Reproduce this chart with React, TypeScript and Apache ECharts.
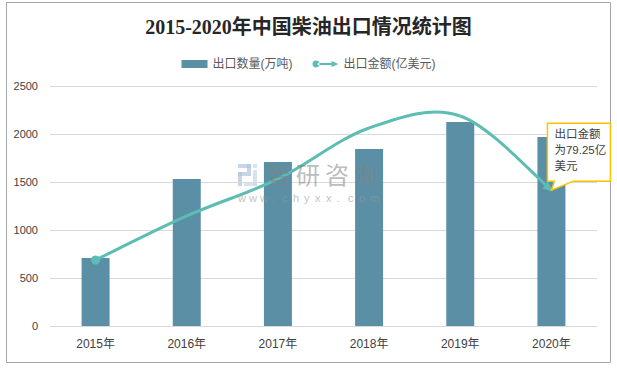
import React, { useEffect, useRef } from 'react';
import * as echarts from 'echarts';

const titleText = '2015-2020年中国柴油出口情况统计图';
const years = ['2015年', '2016年', '2017年', '2018年', '2019年', '2020年'];
const volumeName = '出口数量(万吨)';
const amountName = '出口金额(亿美元)';
const volume = [708, 1531, 1708, 1844, 2125, 1969];
const amount = [38.5, 64.2, 85.8, 115.5, 122.5, 79.25];
const yMin = 0;
const yMax = 2500;
const yInterval = 500;
const y2Max = 140;
const calloutLines = ['出口金额', '为79.25亿', '美元'];
const watermarkCn = '智研咨询';
const watermarkUrl = 'www.chyxx.com';

const font = "'Liberation Sans', 'Noto Sans CJK SC', sans-serif";
const lineColor = '#5BBDB3';

export default function App() {
  const ref = useRef<HTMLDivElement>(null);
  useEffect(() => {
    if (!ref.current) return;
    const chart = echarts.init(ref.current, null, { renderer: 'svg' });
    const n = amount.length;

    const renderItem = (params: any, api: any) => {
      const i = params.dataIndex;
      const P = (k: number) => {
        const kk = Math.max(0, Math.min(n - 1, k));
        return api.coord([kk, amount[kk]]);
      };
      const children: any[] = [];
      if (i < n - 1) {
        const p0 = P(i - 1);
        const p1 = P(i);
        const p2 = P(i + 1);
        const p3 = P(i + 2);
        const t = 1 / 6;
        children.push({
          type: 'bezierCurve',
          shape: {
            x1: p1[0],
            y1: p1[1],
            cpx1: p1[0] + (p2[0] - p0[0]) * t,
            cpy1: p1[1] + (p2[1] - p0[1]) * t,
            cpx2: p2[0] - (p3[0] - p1[0]) * t,
            cpy2: p2[1] - (p3[1] - p1[1]) * t,
            x2: p2[0],
            y2: p2[1],
          },
          style: { stroke: lineColor, lineWidth: 3, fill: 'none' },
        });
      }
      if (i === 0) {
        const p = P(0);
        children.push({
          type: 'circle',
          shape: { cx: p[0], cy: p[1], r: 4.5 },
          style: { fill: lineColor },
        });
      }
      if (i === n - 1) {
        const pe = P(n - 1);
        const pp = P(n - 2);
        const dx = pe[0] - pp[0];
        const dy = pe[1] - pp[1];
        const len = Math.sqrt(dx * dx + dy * dy);
        const ux = dx / len;
        const uy = dy / len;
        const tipX = pe[0] + ux * 2;
        const tipY = pe[1] + uy * 2;
        const L = 10;
        const W = 4.5;
        children.push({
          type: 'polygon',
          shape: {
            points: [
              [tipX, tipY],
              [tipX - ux * L - uy * W, tipY - uy * L + ux * W],
              [tipX - ux * L + uy * W, tipY - uy * L - ux * W],
            ],
          },
          style: { fill: lineColor },
        });
        const tx = pe[0];
        const ty = pe[1];
        children.push({
          type: 'polygon',
          shape: {
            points: [
              [tx - 4, ty - 67],
              [tx + 59, ty - 67],
              [tx + 59, ty - 9],
              [tx + 22, ty - 9],
              [tx, ty],
              [tx + 3, ty - 9],
              [tx - 4, ty - 9],
            ],
          },
          style: { fill: '#fff', stroke: '#FFC000', lineWidth: 1.5 },
        });
        calloutLines.forEach((line, k) => {
          children.push({
            type: 'text',
            style: {
              text: line,
              x: tx + 3,
              y: ty - 56 + k * 16,
              fill: '#404040',
              font: `11.5px ${font}`,
              verticalAlign: 'middle',
              align: 'left',
            },
          });
        });
      }
      return { type: 'group', children };
    };

    const urlChars = watermarkUrl.split('').map((c, i) => ({
      type: 'text',
      left: 238 + i * 11,
      top: 192,
      style: { text: c, fill: 'rgba(150,150,150,0.6)', font: `11px ${font}` },
      z: 100,
    }));
    const cnChars = watermarkCn.split('').map((c, i) => ({
      type: 'text',
      left: 267 + i * 29,
      top: 161,
      style: { text: c, fill: 'rgba(130,130,130,0.55)', font: `24px 'Noto Sans CJK SC', sans-serif` },
      z: 100,
    }));
    const logoFill = 'rgba(175,195,220,0.7)';
    const logoFill2 = 'rgba(200,215,235,0.7)';

    chart.setOption({
      animation: false,
      backgroundColor: '#fff',
      title: {
        text: titleText,
        left: 'center',
        top: 12,
        textStyle: {
          fontSize: 20,
          fontWeight: 'bold',
          color: '#262626',
          fontFamily: "'Liberation Serif', 'Noto Sans CJK SC', serif",
        },
      },
      legend: {
        top: 53,
        left: 'center',
        itemWidth: 26,
        itemHeight: 8,
        itemGap: 20,
        textStyle: { fontSize: 12, color: '#595959', fontFamily: font },
        data: [
          { name: volumeName, icon: 'rect' },
          {
            name: amountName,
            icon: 'path://M0 5A4 4 0 1 0 8 5A4 4 0 1 0 0 5ZM6 3.8H23V6.2H6ZM22 1.5L30 5L22 8.5Z',
            itemStyle: { color: lineColor },
          },
        ],
      },
      grid: { left: 50, right: 20, top: 86, bottom: 42 },
      xAxis: {
        type: 'category',
        data: years,
        axisLine: { lineStyle: { color: '#D9D9D9' } },
        axisTick: { show: false },
        axisLabel: { color: '#404040', fontSize: 12, margin: 12, fontFamily: font },
      },
      yAxis: [
        {
          type: 'value',
          min: yMin,
          max: yMax,
          interval: yInterval,
          axisLine: { show: false },
          axisTick: { show: false },
          splitLine: { lineStyle: { color: '#D9D9D9' } },
          axisLabel: {
            color: '#404040',
            fontSize: 11,
            margin: 12,
            fontFamily: font,
            formatter: (v: number) => String(v),
          },
        },
        { type: 'value', min: 0, max: y2Max, show: false, splitLine: { show: false } },
      ],
      series: [
        {
          name: volumeName,
          type: 'bar',
          data: volume,
          barWidth: 28,
          itemStyle: { color: '#5B8FA6' },
        },
        {
          name: amountName,
          type: 'custom',
          yAxisIndex: 1,
          data: amount.map((v, i) => [i, v]),
          encode: { x: 0, y: 1 },
          renderItem,
          itemStyle: { color: lineColor },
          z: 5,
        },
      ],
      graphic: [
        {
          type: 'rect',
          shape: { x: 6.5, y: 2.5, width: 604, height: 360 },
          style: { fill: 'none', stroke: '#A6A6A6', lineWidth: 1 },
          silent: true,
        },
        {
          type: 'group',
          left: 238,
          top: 164,
          z: 100,
          children: [
            { type: 'rect', shape: { x: 0, y: 0, width: 13, height: 4 }, style: { fill: logoFill } },
            { type: 'rect', shape: { x: 9, y: 0, width: 4, height: 12 }, style: { fill: logoFill } },
            { type: 'rect', shape: { x: 0, y: 8, width: 9, height: 4 }, style: { fill: logoFill } },
            { type: 'rect', shape: { x: 0, y: 8, width: 4, height: 14 }, style: { fill: logoFill } },
            { type: 'rect', shape: { x: 15, y: 0, width: 4, height: 4 }, style: { fill: logoFill2 } },
            { type: 'rect', shape: { x: 15, y: 6, width: 4, height: 16 }, style: { fill: logoFill2 } },
            { type: 'rect', shape: { x: 6, y: 18, width: 13, height: 4 }, style: { fill: logoFill2 } },
          ],
        },
        ...cnChars,
        ...urlChars,
      ],
    });
    return () => chart.dispose();
  }, []);
  return (
    <div
      ref={ref}
      style={{ position: 'fixed', left: 0, top: 0, width: 617, height: 368 }}
    />
  );
}
